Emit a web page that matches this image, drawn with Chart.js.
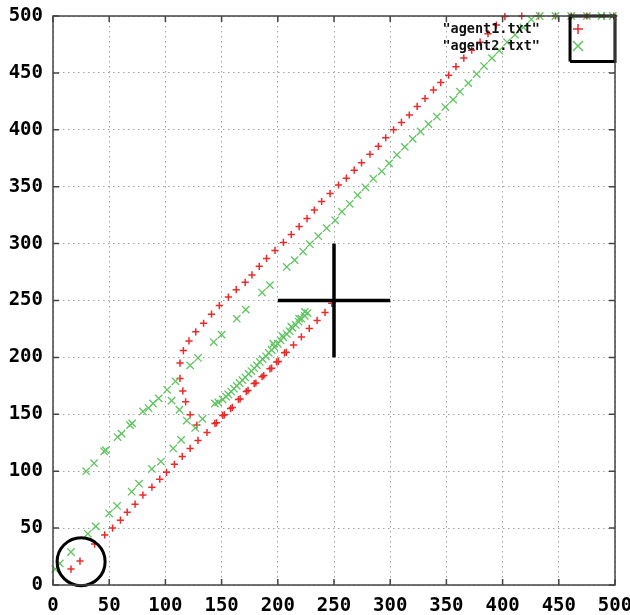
<!DOCTYPE html>
<html>
<head>
<meta charset="utf-8">
<script src="https://cdn.jsdelivr.net/npm/chart.js@4/dist/chart.umd.min.js"></script>
<style>
  html, body { margin: 0; padding: 0; background: #fff; }
  #wrap { width: 630px; height: 615px; }
</style>
</head>
<body>
<div id="wrap"><canvas id="agentsChart" width="630" height="615"></canvas></div>
<script>
// agent1.txt (red +)
const agent1X = [16, 24, 37, 46, 53, 60, 66, 73, 80, 88, 95, 101, 108, 115, 122, 129, 137, 144, 151,
  145.5, 152.5, 158, 159.5, 165, 166.5, 172, 173.5, 179, 180.5, 186, 187.5, 193, 194.5, 199, 200.5,
  206, 207.5, 214, 221, 228, 235, 242, 248,
  122, 118, 115.5, 113, 113, 116, 121, 127, 134, 141, 148, 156, 163, 171, 177, 183.5, 190, 197.5,
  205, 212, 219, 226, 232.5, 239, 246.5, 254, 261, 268, 274.5, 282, 289.5, 296, 303, 310, 317, 324,
  331, 338.5, 345, 352, 358.5, 365.5, 372.5, 380, 387, 394.5, 402, 417, 432, 447, 461, 475, 490, 499, 128];
const agent1Y = [14, 21, 36, 44, 50, 57, 64, 71, 79, 86, 93, 99, 106, 113, 120, 127, 134, 142, 149,
  142.5, 149.5, 155, 156, 163, 163.5, 170, 171, 177, 177.5, 183, 184, 190, 190.5, 196, 196.5,
  204, 204.5, 211, 218, 225.5, 232.5, 239.5, 247.5,
  149.5, 161, 170.5, 181.5, 195, 206, 214.5, 222.5, 230, 238, 245.5, 253, 259.5, 266, 272.5, 280, 287, 294,
  301, 308, 315, 322, 329.5, 337, 344, 351.5, 357.5, 364.5, 371, 378.5, 385.5, 393, 400, 406.5, 413, 420.5,
  427.5, 435, 441.5, 448, 455.5, 463, 470, 477, 484.5, 492, 499.5, 500, 500, 500, 500, 500, 500, 500, 140.5];

// agent2.txt (green x)
const agent2X = [2, 6, 16, 31, 38, 50, 57, 70, 76.5, 88, 96, 107, 114, 126.5, 133,
  29.5, 36.5, 45.5, 47, 57.5, 61, 68.5, 70.5, 80, 85, 89, 94, 101.5, 109,
  105.5, 112.5, 119,
  122, 129, 143, 150, 163.5, 171.5, 186, 193, 208, 215, 222.5, 228.5, 236, 243.5, 251, 257, 264, 271,
  278, 285, 292.5, 299, 306, 313, 320, 327, 334, 341.5, 349, 356, 362, 369.5, 377, 383.5, 390.5, 397,
  404, 411, 418.5, 425.5, 433, 447, 461, 475, 488, 498,
  144, 147, 151, 154, 156, 158.5, 161, 163.5, 166, 168.5, 171, 174, 176.5, 179, 181.5, 184, 186.5,
  189.5, 192, 194.5, 197, 200, 202.5, 205, 208, 210.5, 213, 216, 218.5, 221, 224, 226.5,
  196, 204, 212, 219, 224];
const agent2Y = [14, 19, 29, 45, 51.5, 63, 69.5, 82, 89, 102, 108.5, 120, 127.5, 138, 146,
  100, 107, 117.5, 118.5, 130, 133, 140.5, 142, 152.5, 155.5, 159.5, 164, 171.5, 179,
  162, 154, 144.5,
  193, 199.5, 213.5, 220, 234, 242, 257, 263.5, 279.5, 285.5, 293, 299.5, 306.5, 313.5, 320.5, 328, 335, 342.5,
  349.5, 357, 363.5, 370.5, 378, 385, 392, 398.5, 405, 411.5, 420, 426.5, 433.5, 441, 449, 456, 463, 469.5,
  477, 483.5, 490, 497, 500, 500, 500, 500, 500, 500,
  159.5, 160.5, 163, 165.5, 167.5, 170, 172.5, 175, 177.5, 180, 182.5, 185.5, 188, 190.5, 193, 196, 198.5,
  201, 204, 206.5, 209, 212, 215, 217.5, 220.5, 223, 226, 228.5, 231.5, 234, 236.5, 239,
  212, 219, 227, 234, 240];

// marks drawn on top of the plot, in data units
const circleCenter = [25, 20.5];
const crossH = [[200, 250], [300, 250]];
const crossV = [[250, 200], [250, 300]];
const goalBox = [[460, 460], [500, 460], [500, 500], [460, 500], [460, 460]];

const axisMin = 0, axisMax = 500, axisStep = 50;

const toPoints = (xs, ys) => xs.map((x, i) => ({ x, y: ys[i] }));
const pairs = arr => arr.map(p => ({ x: p[0], y: p[1] }));

const RED = 'rgb(236, 42, 42)';
const GREEN = 'rgb(96, 196, 96)';
const tickFont = { family: '"DejaVu Sans Mono", monospace', size: 19, weight: 'bold' };

// frame, inward ticks (all four sides) and the gnuplot style key
const gnuplotFrame = {
  id: 'gnuplotFrame',
  afterDatasetsDraw(chart) {
    const { ctx, chartArea: a, scales: { x, y } } = chart;
    ctx.save();
    ctx.strokeStyle = '#444';
    ctx.lineWidth = 1.5;
    ctx.beginPath();
    for (let v = axisMin; v <= axisMax; v += axisStep) {
      const px = x.getPixelForValue(v), py = y.getPixelForValue(v);
      ctx.moveTo(px, a.bottom); ctx.lineTo(px, a.bottom - 6);
      ctx.moveTo(px, a.top); ctx.lineTo(px, a.top + 6);
      ctx.moveTo(a.left, py); ctx.lineTo(a.left + 6, py);
      ctx.moveTo(a.right, py); ctx.lineTo(a.right - 6, py);
    }
    ctx.stroke();
    ctx.strokeRect(a.left, a.top, a.right - a.left, a.bottom - a.top);

    // key
    const sets = chart.data.datasets.filter(d => d.inKey);
    ctx.font = 'bold 13.5px "DejaVu Sans Mono", monospace';
    ctx.fillStyle = '#111';
    ctx.textAlign = 'right';
    ctx.textBaseline = 'middle';
    sets.forEach((d, i) => {
      const ty = 29 + i * 17;
      ctx.fillText('"' + d.label + '"', 540, ty);
      ctx.strokeStyle = d.borderColor;
      ctx.lineWidth = 1.5;
      ctx.beginPath();
      const cx = 578, r = 5;
      if (d.pointStyle === 'cross') {
        ctx.moveTo(cx - r, ty); ctx.lineTo(cx + r, ty);
        ctx.moveTo(cx, ty - r); ctx.lineTo(cx, ty + r);
      } else {
        ctx.moveTo(cx - r, ty - r); ctx.lineTo(cx + r, ty + r);
        ctx.moveTo(cx - r, ty + r); ctx.lineTo(cx + r, ty - r);
      }
      ctx.stroke();
    });
    ctx.restore();
  }
};

const blackLine = (data) => ({
  type: 'line',
  data,
  showLine: true,
  borderColor: '#000',
  borderWidth: 3.5,
  pointRadius: 0,
  fill: false,
  tension: 0,
  clip: false,
  order: 0
});

const ctx = document.getElementById('agentsChart').getContext('2d');
new Chart(ctx, {
  type: 'scatter',
  data: {
    datasets: [
      {
        label: 'agent1.txt',
        inKey: true,
        data: toPoints(agent1X, agent1Y),
        pointStyle: 'cross',
        pointRadius: 3.6,
        pointBorderWidth: 1.5,
        borderColor: RED,
        backgroundColor: RED,
        clip: false,
        order: 2
      },
      {
        label: 'agent2.txt',
        inKey: true,
        data: toPoints(agent2X, agent2Y),
        pointStyle: 'crossRot',
        pointRadius: 5.2,
        pointBorderWidth: 1.3,
        borderColor: GREEN,
        backgroundColor: GREEN,
        clip: false,
        order: 1
      },
      {
        label: 'start',
        data: [{ x: circleCenter[0], y: circleCenter[1] }],
        pointStyle: 'circle',
        pointRadius: 24,
        pointBorderWidth: 3,
        borderColor: '#000',
        backgroundColor: 'rgba(0,0,0,0)',
        clip: false,
        order: 0
      },
      blackLine(pairs(crossH)),
      blackLine(pairs(crossV)),
      Object.assign(blackLine(pairs(goalBox)), { borderWidth: 3 })
    ]
  },
  options: {
    responsive: false,
    animation: false,
    devicePixelRatio: 1,
    layout: { autoPadding: false, padding: { left: 0, right: 15, top: 16, bottom: 0 } },
    plugins: {
      legend: { display: false },
      tooltip: { enabled: false }
    },
    scales: {
      x: {
        type: 'linear',
        min: axisMin,
        max: axisMax,
        afterFit: s => { s.height = 30; s.paddingLeft = 0; s.paddingRight = 0; },
        ticks: { stepSize: axisStep, color: '#000', font: tickFont, padding: 10, maxRotation: 0 },
        grid: { color: '#a0a0a0', lineWidth: 1, drawTicks: false },
        border: { display: false, dash: [1.5, 3.5] }
      },
      y: {
        type: 'linear',
        min: axisMin,
        max: axisMax,
        afterFit: s => { s.width = 53; s.paddingTop = 0; s.paddingBottom = 0; },
        ticks: { stepSize: axisStep, color: '#000', font: tickFont, padding: 10 },
        grid: { color: '#a0a0a0', lineWidth: 1, drawTicks: false },
        border: { display: false, dash: [1.5, 3.5] }
      }
    }
  },
  plugins: [gnuplotFrame]
});
</script>
</body>
</html>
